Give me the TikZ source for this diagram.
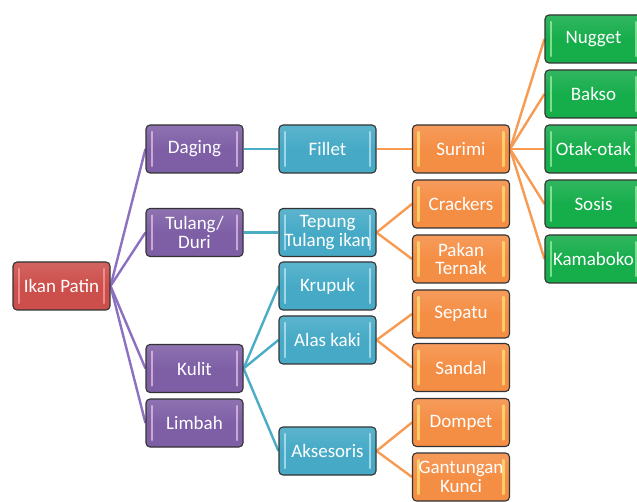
\documentclass[tikz,border=0pt]{standalone}
\usepackage{fontspec}
\setmainfont{Carlito}
\usetikzlibrary{backgrounds}
\definecolor{cred}{HTML}{CD4F4B}
\definecolor{cpur}{HTML}{7E5FA6}
\definecolor{cteal}{HTML}{46AAC6}
\definecolor{corg}{HTML}{F58E45}
\definecolor{cgrn}{HTML}{16AD4B}
\definecolor{lpur}{HTML}{8C70C2}
\definecolor{lteal}{HTML}{4BACC6}
\definecolor{lorg}{HTML}{F79A52}
\tikzset{
  bx/.style 2 args={draw=black!80, line width=1.1pt, rounded corners=4pt,
    top color=#1!88!white, bottom color=#1, middle color=#1,
    minimum width=97pt, minimum height=48pt, inner sep=0pt, align=center,
    text=white, font=\fontsize{19}{18.5}\selectfont,
    path picture={
      \draw[#2, line width=2.2pt, opacity=0.6, line cap=round]
        ([xshift=6pt,yshift=-7pt]path picture bounding box.north west) --
        ([xshift=6pt,yshift=7pt]path picture bounding box.south west);
      \draw[#2, line width=2.2pt, opacity=0.6, line cap=round]
        ([xshift=-6pt,yshift=-7pt]path picture bounding box.north east) --
        ([xshift=-6pt,yshift=7pt]path picture bounding box.south east);
    }},
  red/.style={bx={cred}{red!30!white}},
  pur/.style={bx={cpur}{magenta!15!white}},
  teal/.style={bx={cteal}{cyan!15!white}},
  org/.style={bx={corg}{yellow!50!white}},
  grn/.style={bx={cgrn}{green!25!white}},
  lnp/.style={lpur, line width=2.4pt},
  lnt/.style={lteal, line width=2.4pt},
  lno/.style={lorg, line width=2.4pt},
}
\begin{document}
\begin{tikzpicture}[x=1pt,y=-1pt]
\useasboundingbox (0,0) rectangle (637,502);
\clip (0,0) rectangle (637,502);
% level 0
\node[red] (ikan) at (61.5,286) {Ikan Patin};
% level 1
\node[pur] (daging) at (194.5,149) {Daging};
\node[pur] (tulang) at (194.5,232.5) {Tulang/\\Duri};
\node[pur] (kulit) at (194.5,368.5) {Kulit};
\node[pur] (limbah) at (194.5,423) {Limbah};
% level 2
\node[teal] (fillet) at (327.5,149) {Fillet};
\node[teal] (tepung) at (327.5,232.5) {Tepung\\Tulang ikan};
\node[teal] (krupuk) at (327.5,286) {Krupuk};
\node[teal] (alas) at (327.5,340) {Alas kaki};
\node[teal] (akses) at (327.5,451) {Aksesoris};
% level 3
\node[org] (surimi) at (461,149) {Surimi};
\node[org] (crack) at (461,204) {Crackers};
\node[org] (pakan) at (461,259) {Pakan\\Ternak};
\node[org] (sepatu) at (461,314) {Sepatu};
\node[org] (sandal) at (461,367.5) {Sandal};
\node[org] (dompet) at (461,422.5) {Dompet};
\node[org] (gantung) at (461,477) {Gantungan\\Kunci};
% level 4
\node[grn] (nugget) at (593.5,39) {Nugget};
\node[grn] (bakso) at (593.5,94) {Bakso};
\node[grn] (otak) at (593.5,149) {Otak-otak};
\node[grn] (sosis) at (593.5,204) {Sosis};
\node[grn] (kama) at (593.5,259) {Kamaboko};
\begin{scope}[on background layer]
  \fill[white] (0,0) rectangle (637,502);
  \foreach \c in {daging,tulang,kulit,limbah} \draw[lnp] (ikan.east) -- (\c.west);
  \draw[lnt] (daging.east) -- (fillet.west);
  \draw[lnt] (tulang.east) -- (tepung.west);
  \foreach \c in {krupuk,alas,akses} \draw[lnt] (kulit.east) -- (\c.west);
  \draw[lno] (fillet.east) -- (surimi.west);
  \foreach \c in {crack,pakan} \draw[lno] (tepung.east) -- (\c.west);
  \foreach \c in {sepatu,sandal} \draw[lno] (alas.east) -- (\c.west);
  \foreach \c in {dompet,gantung} \draw[lno] (akses.east) -- (\c.west);
  \foreach \c in {nugget,bakso,otak,sosis,kama} \draw[lno] (surimi.east) -- (\c.west);
\end{scope}
\end{tikzpicture}
\end{document}
